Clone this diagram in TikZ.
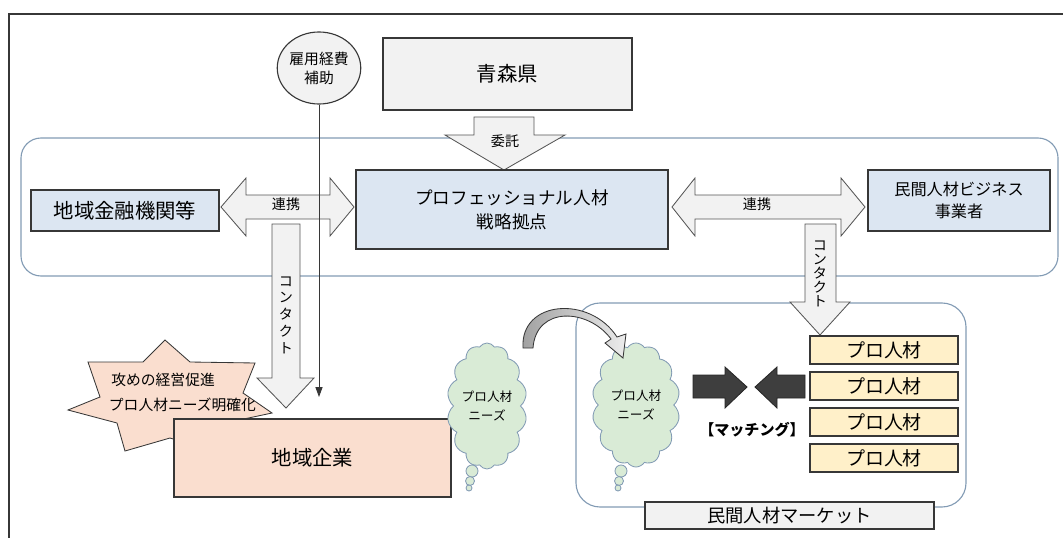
\documentclass[tikz,border=0pt]{standalone}
\usepackage{fontspec}
\setmainfont{Noto Sans CJK JP}
\usetikzlibrary{arrows.meta,shapes.geometric,shapes.symbols}
\definecolor{grau}{RGB}{242,242,242}
\definecolor{hellblau}{RGB}{220,230,242}
\definecolor{lachs}{RGB}{250,222,207}
\definecolor{mint}{RGB}{217,235,214}
\definecolor{gelb}{RGB}{255,240,201}
\definecolor{rahmen}{RGB}{130,155,180}
\definecolor{dunkel}{RGB}{62,62,62}
\definecolor{linie}{RGB}{55,55,55}
\tikzset{
  kasten/.style={draw=linie, line width=0.8pt, inner sep=0pt, align=center},
  pfeil/.style={draw=linie!85, fill=grau, line width=0.6pt},
  wolke/.style={cloud, cloud puffs=14, cloud puff arc=115, cloud ignores aspect, draw=rahmen, fill=mint, line width=0.6pt, inner sep=0pt, align=center, font=\fontsize{9}{13}\selectfont},
  blase/.style={draw=rahmen, fill=mint, line width=0.6pt},
  klein/.style={font=\fontsize{10}{12}\selectfont}
}

\begin{document}
\begin{tikzpicture}[x=0.025cm,y=-0.025cm]
  \useasboundingbox (0,0) rectangle (1063,538);
  %Rahmen und Bereiche
  \draw[linie, line width=0.8pt] (1063,14) -- (9,14) -- (9,538);
  \draw[rahmen, line width=0.8pt, rounded corners=5mm] (21,138) rectangle (1058,276);
  \draw[rahmen, line width=0.8pt, rounded corners=6mm] (576,303) rectangle (966,507);

  %Knoten oben
  \node[kasten, fill=grau, minimum width=6.225cm, minimum height=1.8cm, font=\fontsize{14.5}{17}\selectfont] (Ken) at (507.5,74) {青森県};
  \node[ellipse, draw=linie, line width=0.8pt, fill=grau, minimum width=1.95cm, minimum height=1.8cm, inner sep=0pt, align=center, font=\fontsize{10.5}{13.5}\selectfont] (Hojo) at (319,68) {雇用経費\\補助};
  %Auftrag
  \draw[pfeil] (474,117) -- (534,117) -- (534,135) -- (565,135) -- (504,170) -- (445,135) -- (474,135) -- cycle;
  \node[klein] (Itaku) at (505,141) {委託};

  %Knoten Mitte
  \node[kasten, fill=hellblau, minimum width=4.7cm, minimum height=1.025cm, font=\fontsize{14.5}{17}\selectfont] (Kinyu) at (125,210.5) {地域金融機関等};
  \node[kasten, fill=hellblau, minimum width=7.8cm, minimum height=1.975cm, font=\fontsize{12.5}{17}\selectfont] (Senryaku) at (512,209.5) {プロフェッショナル人材\\戦略拠点};
  \node[kasten, fill=hellblau, minimum width=4.55cm, minimum height=1.525cm, font=\fontsize{11.5}{15.5}\selectfont] (Jigyo) at (959,200.5) {民間人材ビジネス\\事業者};
  %Zusammenarbeit
  \draw[pfeil] (221,207) -- (246,178) -- (246,195) -- (330,195) -- (330,178) -- (354,207) -- (330,236) -- (330,219) -- (246,219) -- (246,236) -- cycle;
  \node[klein] (RenkeiL) at (286,204) {連携};
  \draw[pfeil] (672,207) -- (695,178) -- (695,195) -- (841,195) -- (841,178) -- (865,207) -- (841,236) -- (841,219) -- (695,219) -- (695,236) -- cycle;
  \node[klein] (RenkeiR) at (757,204) {連携};
  %Kontakt
  \draw[pfeil] (272,224) -- (300,224) -- (300,378) -- (314,378) -- (286,408) -- (257,378) -- (272,378) -- cycle;
  \node[align=center, font=\fontsize{10}{11.9}\selectfont] (KontaktL) at (286,315) {コ\\ン\\タ\\ク\\ト};
  \draw[pfeil] (805,224) -- (836,224) -- (836,302) -- (850,302) -- (820,335) -- (790,302) -- (805,302) -- cycle;
  \node[align=center, font=\fontsize{10}{10}\selectfont] (KontaktR) at (820,274) {コ\\ン\\タ\\ク\\ト};
  %Zuschuss
  \coordinate (Ziel) at (319,397);
  \draw[linie, line width=0.6pt, -{Triangle[length=7pt,width=5pt]}] (Hojo) -- (Ziel);

  %Stern und Unternehmen
  \draw[draw=linie, line width=0.6pt, fill=lachs] (165,340) -- (190,362) -- (255,363) -- (243,393) -- (272,413) -- (225,423) -- (212,451) -- (170,438) -- (125,451) -- (117,423) -- (68,410) -- (100,397) -- (88,362) -- (143,362) -- cycle;
  \node[anchor=west, align=left, font=\fontsize{10.5}{17.8}\selectfont] (Stern) at (104,392) {\,攻めの経営促進\\プロ人材ニーズ明確化};
  \node[kasten, fill=lachs, minimum width=6.925cm, minimum height=1.95cm, font=\fontsize{14.5}{17}\selectfont] (Kigyo) at (312.5,458) {地域企業};

  %Wolken
  \node[wolke, minimum width=2cm, minimum height=3.15cm] (WolkeA) at (487,406) {プロ人材\\ニーズ};
  \draw[blase] (472,471) circle (6);
  \draw[blase] (470,481) circle (4.5);
  \draw[blase] (469,488) circle (3);
  \node[wolke, minimum width=2.2cm, minimum height=3.1cm] (WolkeB) at (636,405) {プロ人材\\ニーズ};
  \draw[blase] (621,471) circle (6);
  \draw[blase] (619,481) circle (4.5);
  \draw[blase] (618,488) circle (3);
  %gebogener Pfeil
  \draw[draw=linie, line width=0.6pt, left color=gray!75, right color=gray!15] (523,348) .. controls (520,300) and (590,295) .. (617,337) -- (626,334) -- (623,358) -- (605,343) -- (611,339) .. controls (588,308) and (536,306) .. (533,348) -- cycle;

  %Matching
  \draw[draw=black!85, fill=dunkel, line width=0.6pt] (693,375) -- (725,375) -- (725,367) -- (747,387) -- (725,408) -- (725,398) -- (693,398) -- cycle;
  \draw[draw=black!85, fill=dunkel, line width=0.6pt] (805,375) -- (777,375) -- (777,367) -- (755,387) -- (777,408) -- (777,398) -- (805,398) -- cycle;
  \node[font=\bfseries\fontsize{10.7}{12}\selectfont] (Matching) at (752,430) {【マッチング】};

  %Pro-Kandidaten
  \node[kasten, fill=gelb, minimum width=3.7cm, minimum height=0.7cm, font=\fontsize{13.5}{15}\selectfont] (ProA) at (884,350) {プロ人材};
  \node[kasten, fill=gelb, minimum width=3.7cm, minimum height=0.7cm, font=\fontsize{13.5}{15}\selectfont] (ProB) at (884,386) {プロ人材};
  \node[kasten, fill=gelb, minimum width=3.7cm, minimum height=0.7cm, font=\fontsize{13.5}{15}\selectfont] (ProC) at (884,422) {プロ人材};
  \node[kasten, fill=gelb, minimum width=3.7cm, minimum height=0.7cm, font=\fontsize{13.5}{15}\selectfont] (ProD) at (884,458) {プロ人材};
  %Markt
  \node[kasten, fill=grau, minimum width=7.225cm, minimum height=0.675cm, font=\fontsize{13}{15}\selectfont] (Markt) at (789.5,515.5) {民間人材マーケット};
\end{tikzpicture}
\end{document}
